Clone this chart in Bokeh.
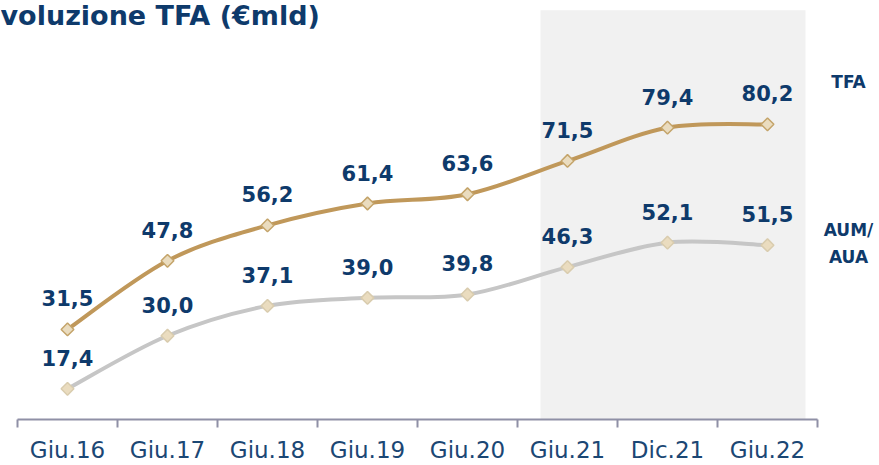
import numpy as np
from bokeh.plotting import figure
from bokeh.models import ColumnDataSource, FixedTicker, BoxAnnotation, Range1d, Label
from bokeh.core.properties import value
from bokeh.embed import file_html
from bokeh.resources import INLINE

# ---- data ----
categories = ["Giu.16", "Giu.17", "Giu.18", "Giu.19", "Giu.20", "Giu.21", "Dic.21", "Giu.22"]
tfa = [31.5, 47.8, 56.2, 61.4, 63.6, 71.5, 79.4, 80.2]
aum = [17.4, 30.0, 37.1, 39.0, 39.8, 46.3, 52.1, 51.5]
title_text = "voluzione TFA (€mld)"
series_names = ["TFA", "AUM/", "AUA"]

NAVY = "#0E3A6B"
GOLD = "#C0985A"
GREY = "#C6C6C6"

xs = np.arange(len(categories)) + 0.5

p = figure(frame_width=877, frame_height=419, output_backend="svg", toolbar_location=None,
           x_range=Range1d(-0.17, 8.60), y_range=Range1d(10.12, 109.6),
           y_axis_location=None, min_border=0, min_border_bottom=44)
p.grid.visible = False
p.outline_line_color = None
p.background_fill_color = "white"

# shaded band for the recent period
i21 = categories.index("Giu.21")
band = BoxAnnotation(left=xs[i21] - 0.27, right=xs[-1] + 0.38, top=107.3,
                     fill_color="#F1F1F1", fill_alpha=1.0, line_color=None, level="underlay")
p.add_layout(band)


def smooth(xv, yv):
    x = np.asarray(xv, float); y = np.asarray(yv, float)
    n = len(x)
    xp = np.concatenate([[x[0]], x, [x[-1]]])
    yp = np.concatenate([[y[0]], y, [y[-1]]])
    x0, y0, x1, y1, cx0, cy0, cx1, cy1 = [], [], [], [], [], [], [], []
    for i in range(n - 1):
        j = i + 1
        x0.append(xp[j]); y0.append(yp[j]); x1.append(xp[j + 1]); y1.append(yp[j + 1])
        cx0.append(xp[j] + (xp[j + 1] - xp[j - 1]) / 6); cy0.append(yp[j] + (yp[j + 1] - yp[j - 1]) / 6)
        cx1.append(xp[j + 1] - (xp[j + 2] - xp[j]) / 6); cy1.append(yp[j + 1] - (yp[j + 2] - yp[j]) / 6)
    return dict(x0=x0, y0=y0, x1=x1, y1=y1, cx0=cx0, cy0=cy0, cx1=cx1, cy1=cy1)


for vals, col, mline in [(aum, GREY, "#D9CCAE"), (tfa, GOLD, "#C4A46A")]:
    p.bezier(source=ColumnDataSource(smooth(xs, vals)), x0="x0", y0="y0", x1="x1", y1="y1",
             cx0="cx0", cy0="cy0", cx1="cx1", cy1="cy1", line_color=col, line_width=4)
    p.scatter(xs, vals, marker="square", angle=np.pi / 4, size=9,
              fill_color="#EADCBF", line_color=mline, line_width=1.5)
    src = ColumnDataSource(dict(x=xs, y=vals, t=[f"{v:.1f}".replace(".", ",") for v in vals]))
    p.text("x", "y", text="t", source=src, y_offset=-31, text_align="center",
           text_baseline="middle", text_color=NAVY, text_font=value("DejaVu Sans"),
           text_font_style="bold", text_font_size="21px")

# x axis: labels at category centres, ticks at boundaries
ax = p.xaxis[0]
ax.ticker = FixedTicker(ticks=list(xs), minor_ticks=list(np.arange(len(categories) + 1)))
ax.major_label_overrides = {float(x): c for x, c in zip(xs, categories)}
ax.bounds = (0, len(categories))
ax.major_tick_in = 0
ax.major_tick_out = 0
ax.minor_tick_in = 0
ax.minor_tick_out = 8
ax.minor_tick_line_color = "#8F90A6"
ax.minor_tick_line_width = 2
ax.axis_line_color = "#8F90A6"
ax.axis_line_width = 2
ax.major_label_standoff = 9
ax.major_label_text_font = "DejaVu Sans"
ax.major_label_text_font_size = "23px"
ax.major_label_text_color = "#1B4774"

# title and series labels
p.add_layout(Label(x=-0.17, y=106.15, text=title_text, text_baseline="middle", text_align="left",
                   text_color=NAVY, text_font="DejaVu Sans", text_font_style="bold",
                   text_font_size="27px"))
for name, yv in zip(series_names, [90.3, 55.2, 48.7]):
    p.add_layout(Label(x=8.31, y=yv, text=name, text_baseline="middle", text_align="center",
                       text_color=NAVY, text_font="DejaVu Sans", text_font_style="bold",
                       text_font_size="17px"))

open("out.html", "w").write(file_html(p, INLINE))
